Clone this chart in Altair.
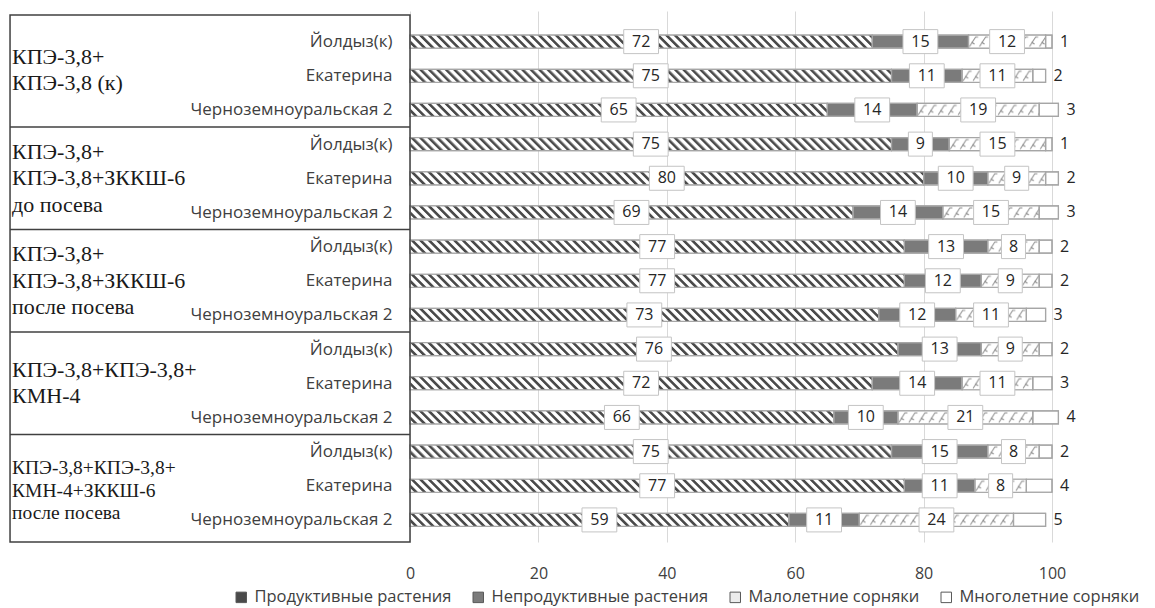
import urllib.parse
import altair as alt
import pandas as pd

# ---------------- data ----------------
groups = [
    ["КПЭ-3,8+", "КПЭ-3,8 (к)"],
    ["КПЭ-3,8+", "КПЭ-3,8+ЗККШ-6", "до посева"],
    ["КПЭ-3,8+", "КПЭ-3,8+ЗККШ-6", "после посева"],
    ["КПЭ-3,8+КПЭ-3,8+", "КМН-4"],
    ["КПЭ-3,8+КПЭ-3,8+", "КМН-4+ЗККШ-6", "после посева"],
]
varieties = ["Йолдыз(к)", "Екатерина", "Черноземноуральская 2"]
categories = ["Продуктивные растения", "Непродуктивные растения",
              "Малолетние сорняки", "Многолетние сорняки"]
productive = [72, 75, 65, 75, 80, 69, 77, 77, 73, 76, 72, 66, 75, 77, 59]
unproductive = [15, 11, 14, 9, 10, 14, 13, 12, 12, 13, 14, 10, 15, 11, 11]
annual = [12, 11, 19, 15, 9, 15, 8, 9, 11, 9, 11, 21, 8, 8, 24]
perennial = [1, 2, 3, 1, 2, 3, 2, 2, 3, 2, 3, 4, 2, 4, 5]
x_ticks = [0, 20, 40, 60, 80, 100]

# ---------------- tables ----------------
series = [productive, unproductive, annual, perennial]
n_rows = len(productive)
rows = []
for r in range(n_rows):
    for k, cat in enumerate(categories):
        rows.append({"r": r, "k": k, "cat": cat, "value": series[k][r]})
df = pd.DataFrame(rows)

TABLE_LEFT = -62.3
df_box = pd.DataFrame({"x0": [TABLE_LEFT], "x1": [0], "y0": [-0.78], "y1": [n_rows - 0.35]})
df_sep = pd.DataFrame({"x0": TABLE_LEFT, "x1": 0,
                       "y": [3 * (i + 1) - 0.5 for i in range(len(groups) - 1)]})
grp_rows = []
for g, lines in enumerate(groups):
    for i, line in enumerate(lines):
        grp_rows.append({"g": g, "line": i, "n": len(lines), "text": line,
                         "mid": 3 * g + 1, "x": TABLE_LEFT})
df_grp = pd.DataFrame(grp_rows)

# ---------------- patterns ----------------
stripes_svg = (
    '<svg xmlns="http://www.w3.org/2000/svg">'
    '<defs><pattern id="p" patternUnits="userSpaceOnUse" width="6" height="6" '
    'patternTransform="rotate(-45)">'
    '<rect width="6" height="6" fill="#ffffff"/>'
    '<rect width="2.6" height="6" fill="#4a4a4a"/></pattern></defs>'
    '<rect width="100%" height="100%" fill="url(#p)"/></svg>'
)
weeds_svg = (
    '<svg xmlns="http://www.w3.org/2000/svg">'
    '<defs><pattern id="q" patternUnits="userSpaceOnUse" width="10" height="13">'
    '<rect width="10" height="13" fill="#ffffff"/>'
    '<path d="M1,11.5 L7,2 L9.5,2 M3,7 L6,9" stroke="#8c8c8c" stroke-width="1" fill="none"/>'
    '</pattern></defs>'
    '<rect width="100%" height="100%" fill="url(#q)"/></svg>'
)
stripes_uri = "data:image/svg+xml;charset=utf-8," + urllib.parse.quote(stripes_svg)
weeds_uri = "data:image/svg+xml;charset=utf-8," + urllib.parse.quote(weeds_svg)

# ---------------- encodings ----------------
SANS = "Open Sans"
SERIF = "Liberation Serif"
TXT = "#404040"

xscale = alt.Scale(domain=[0, 100], nice=False, zero=False)
xaxis = alt.Axis(values=x_ticks, grid=True, gridColor="#d9d9d9", gridWidth=1,
                 domain=False, ticks=False, labelPadding=23, labelFontSize=16,
                 labelFont=SANS, labelColor=TXT, labelFlush=False, title=None)
yscale = alt.Scale(domain=[-0.75, n_rows - 0.5], reverse=True, nice=False, zero=False)
names_js = "[" + ",".join("'" + v + "'" for v in varieties) + "]"
yaxis = alt.Axis(values=list(range(n_rows)), labelExpr=names_js + "[datum.value % 3]",
                 grid=False, domain=False, ticks=False, labelPadding=18,
                 labelFontSize=17, labelFont=SANS, labelColor=TXT, labelLimit=400,
                 labelFlush=False, labelOverlap=False, title=None)


def X(f):
    return alt.X(f, type="quantitative", scale=xscale, axis=xaxis)


def Y(f):
    return alt.Y(f, type="quantitative", scale=yscale, axis=yaxis)


base = alt.Chart(df).transform_stack(
    stack="value", groupby=["r"], sort=[alt.SortField("k", order="ascending")],
    as_=["x0", "x1"]
).transform_calculate(mid="(datum.x0 + datum.x1) / 2")

BAR_H = 13

bars = base.mark_bar(height=BAR_H, stroke="#a6a6a6", strokeWidth=1.2).encode(
    x=X("x0"), x2="x1:Q", y=Y("r"),
    color=alt.Color("cat:N",
                    scale=alt.Scale(domain=categories,
                                    range=["#4a4a4a", "#7b7b7b", "#ececec", "#ffffff"]),
                    legend=alt.Legend(orient="none", legendX=-177, legendY=578,
                                      direction="horizontal", columns=4, title=None,
                                      symbolType="square", symbolSize=110,
                                      symbolStrokeColor="#595959", symbolStrokeWidth=1,
                                      labelFontSize=16.5, labelFont=SANS, labelColor=TXT,
                                      labelLimit=0, labelOffset=5, columnPadding=18,
                                      padding=0)),
)

img_prod = base.transform_filter("datum.k == 0").mark_image(height=BAR_H, aspect=False).encode(
    x=X("x0"), x2="x1:Q", y=Y("r"), url=alt.value(stripes_uri))
img_weed = base.transform_filter("datum.k == 2").mark_image(height=BAR_H, aspect=False).encode(
    x=X("x0"), x2="x1:Q", y=Y("r"), url=alt.value(weeds_uri))

outline = base.mark_bar(height=BAR_H, fillOpacity=0, stroke="#a6a6a6", strokeWidth=1.2).encode(
    x=X("x0"), x2="x1:Q", y=Y("r"))

box2 = base.transform_filter("datum.k < 3 && datum.value >= 10").mark_point(
    shape="M-1.45,-1H1.45V1H-1.45Z", size=576, filled=True, fill="#ffffff",
    stroke="#c4c4c4", strokeWidth=1, opacity=1).encode(x=X("mid"), y=Y("r"))
box1 = base.transform_filter("datum.k < 3 && datum.value < 10").mark_point(
    shape="M-1,-1H1V1H-1Z", size=576, filled=True, fill="#ffffff",
    stroke="#c4c4c4", strokeWidth=1, opacity=1).encode(x=X("mid"), y=Y("r"))

labels = base.transform_filter("datum.k < 3").mark_text(
    fontSize=16, font=SANS, color="#262626", align="center", baseline="middle").encode(
    x=X("mid"), y=Y("r"), text="value:Q")
end_labels = base.transform_filter("datum.k == 3").mark_text(
    fontSize=16, font=SANS, color="#262626", align="left", baseline="middle", dx=8).encode(
    x=X("x1"), y=Y("r"), text="value:Q")

table_box = alt.Chart(df_box).mark_rect(fillOpacity=0, stroke="#404040", strokeWidth=1.5).encode(
    x=X("x0"), x2="x1:Q", y=Y("y0"), y2="y1:Q")
seps = alt.Chart(df_sep).mark_rule(stroke="#404040", strokeWidth=1.5).encode(
    x=X("x0"), x2="x1:Q", y=Y("y"))

grp_text = alt.Chart(df_grp).transform_calculate(
    sp="datum.g == 4 ? 0.66 : 0.77",
    c="datum.g == 0 ? -0.17 : (datum.g == 4 ? 0.15 : 0.0)",
    ly="datum.mid + datum.c + (datum.line - (datum.n - 1) / 2) * datum.sp",
    fs="datum.g == 4 ? 19.5 : 22",
).mark_text(align="left", baseline="middle", dx=2, font=SERIF, color="#1a1a1a").encode(
    x=X("x"), y=Y("ly"), text="text:N", size=alt.Size("fs:Q", scale=None, legend=None))

chart = alt.layer(
    bars, img_prod, img_weed, outline, box2, box1, labels, end_labels,
    table_box, seps, grp_text
).properties(
    width=642, height=608,
    autosize=alt.AutoSizeParams(type="fit-y", contains="padding"),
    padding={"left": 9, "top": 11, "right": 72, "bottom": 27}
).configure_view(stroke=None)

chart.save("out.html", embed_options={"renderer": "svg", "actions": False})
